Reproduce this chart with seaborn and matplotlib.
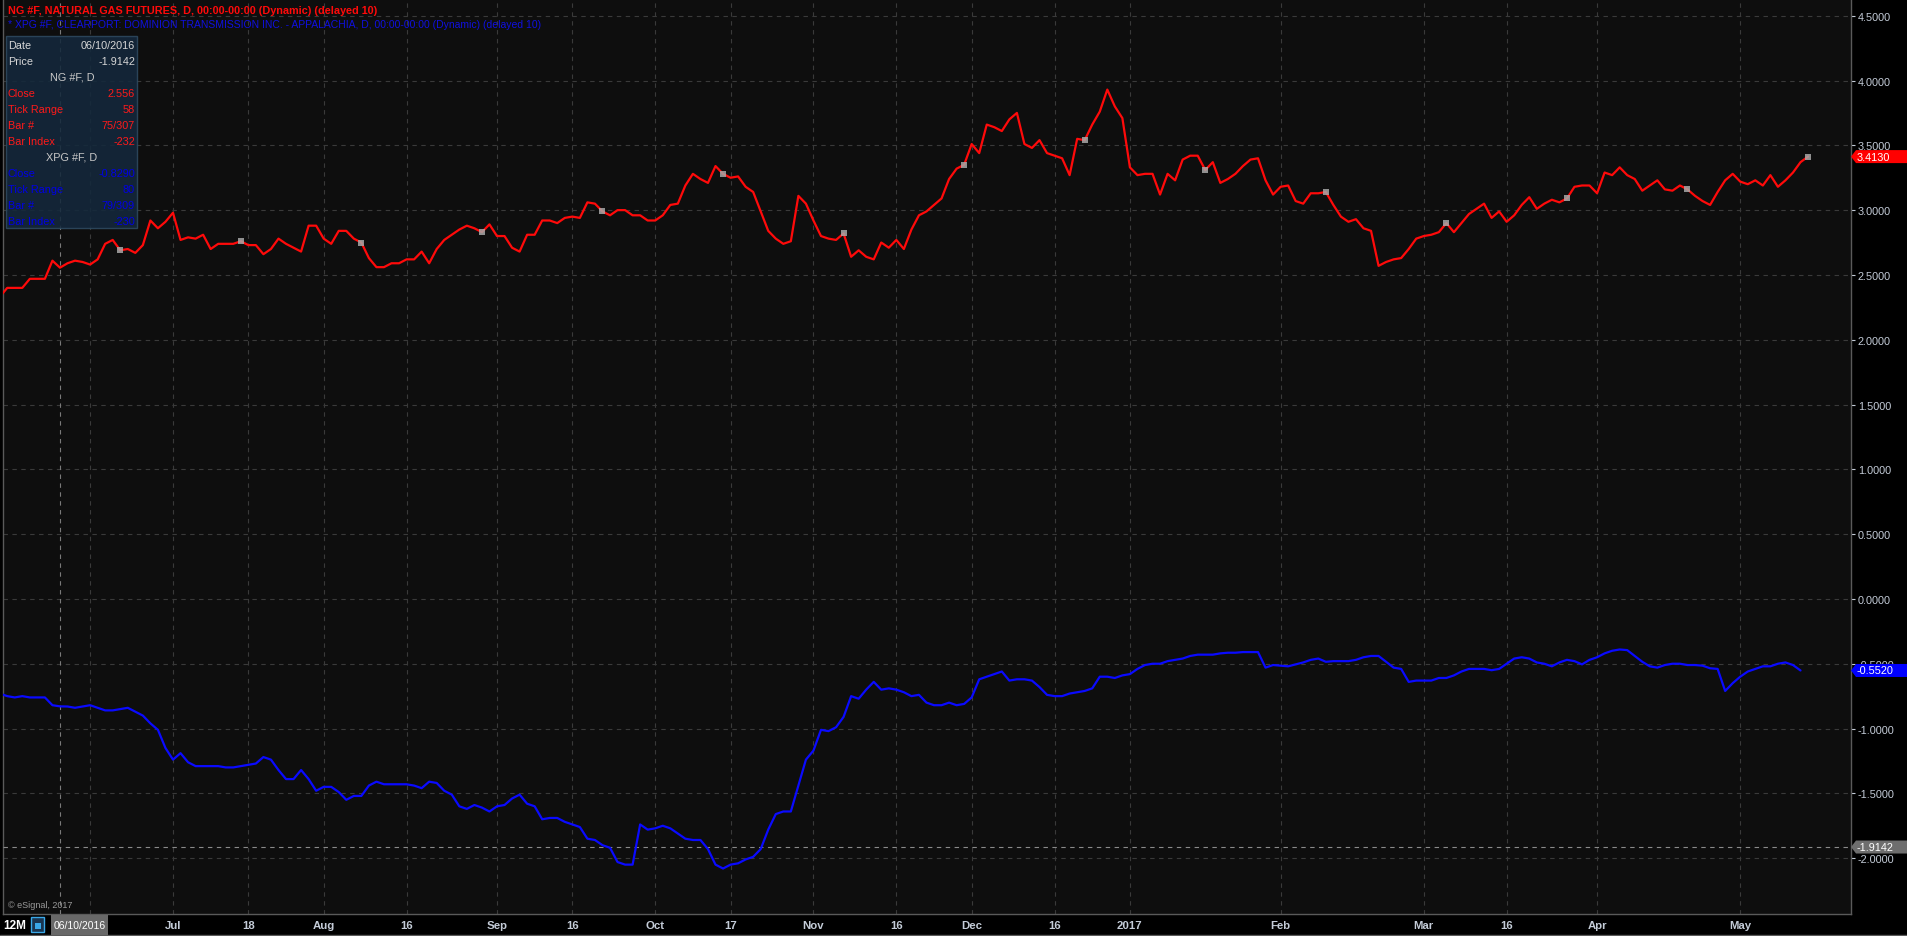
import numpy as np
import pandas as pd
import matplotlib
matplotlib.use('Agg')
import matplotlib.pyplot as plt
import seaborn as sns
from matplotlib.patches import Rectangle, Polygon
from matplotlib.lines import Line2D

# ---- data ----
start_date = '2016-05-31'
holidays = ['2016-07-04', '2016-09-05', '2016-11-24', '2016-12-26',
            '2017-01-02', '2017-01-16', '2017-02-20', '2017-04-14']

# NG #F daily close
ng_close = [
    2.33, 2.40, 2.40, 2.40, 2.47, 2.47, 2.47, 2.61, 2.556, 2.59,
    2.61, 2.60, 2.58, 2.62, 2.74, 2.77, 2.69, 2.70, 2.67, 2.73,
    2.92, 2.86, 2.91, 2.98, 2.77, 2.79, 2.78, 2.81, 2.70, 2.74,
    2.74, 2.74, 2.76, 2.73, 2.73, 2.66, 2.70, 2.78, 2.74, 2.71,
    2.68, 2.88, 2.88, 2.78, 2.74, 2.84, 2.84, 2.78, 2.75, 2.63,
    2.56, 2.56, 2.59, 2.59, 2.62, 2.62, 2.68, 2.59, 2.70, 2.77,
    2.81, 2.85, 2.88, 2.86, 2.83, 2.89, 2.80, 2.80, 2.71, 2.68,
    2.81, 2.81, 2.92, 2.92, 2.90, 2.94, 2.95, 2.94, 3.06, 3.05,
    2.99, 2.96, 3.00, 3.00, 2.96, 2.96, 2.92, 2.92, 2.96, 3.04,
    3.05, 3.19, 3.28, 3.24, 3.21, 3.34, 3.28, 3.25, 3.26, 3.18,
    3.14, 2.99, 2.84, 2.78, 2.74, 2.76, 3.11, 3.05, 2.92, 2.80,
    2.78, 2.77, 2.82, 2.64, 2.69, 2.64, 2.62, 2.75, 2.71, 2.77,
    2.70, 2.85, 2.96, 2.99, 3.04, 3.09, 3.24, 3.32, 3.35, 3.51,
    3.44, 3.66, 3.64, 3.61, 3.70, 3.75, 3.51, 3.48, 3.54, 3.44,
    3.42, 3.40, 3.27, 3.55, 3.54, 3.66, 3.76, 3.93, 3.80, 3.71,
    3.33, 3.27, 3.28, 3.28, 3.12, 3.28, 3.23, 3.39, 3.42, 3.42,
    3.31, 3.37, 3.21, 3.24, 3.28, 3.34, 3.39, 3.40, 3.23, 3.12,
    3.18, 3.19, 3.07, 3.05, 3.13, 3.13, 3.14, 3.04, 2.95, 2.91,
    2.93, 2.86, 2.84, 2.57, 2.60, 2.62, 2.63, 2.70, 2.78, 2.80,
    2.81, 2.83, 2.90, 2.83, 2.90, 2.97, 3.01, 3.05, 2.94, 2.99,
    2.91, 2.96, 3.04, 3.10, 3.01, 3.05, 3.08, 3.06, 3.09, 3.18,
    3.19, 3.19, 3.13, 3.29, 3.27, 3.33, 3.27, 3.24, 3.15, 3.19,
    3.23, 3.16, 3.15, 3.19, 3.16, 3.11, 3.07, 3.04, 3.14, 3.23,
    3.28, 3.22, 3.20, 3.23, 3.19, 3.27, 3.18, 3.23, 3.29, 3.37,
    3.413,
]

# XPG #F daily close (Dominion Transmission basis)
xpg_close = [
    -0.73, -0.75, -0.76, -0.75, -0.76, -0.76, -0.76, -0.82, -0.829, -0.83,
    -0.84, -0.83, -0.82, -0.84, -0.86, -0.86, -0.85, -0.84, -0.87, -0.90,
    -0.96, -1.01, -1.15, -1.24, -1.19, -1.26, -1.29, -1.29, -1.29, -1.29,
    -1.30, -1.30, -1.29, -1.28, -1.27, -1.22, -1.24, -1.32, -1.39, -1.39,
    -1.32, -1.39, -1.48, -1.45, -1.45, -1.49, -1.55, -1.52, -1.52, -1.44,
    -1.41, -1.43, -1.43, -1.43, -1.43, -1.44, -1.46, -1.41, -1.42, -1.48,
    -1.51, -1.60, -1.62, -1.59, -1.61, -1.64, -1.60, -1.59, -1.54, -1.51,
    -1.58, -1.60, -1.70, -1.69, -1.69, -1.72, -1.74, -1.76, -1.85, -1.86,
    -1.90, -1.92, -2.03, -2.05, -2.05, -1.74, -1.78, -1.77, -1.75, -1.77,
    -1.81, -1.85, -1.86, -1.86, -1.93, -2.05, -2.08, -2.05, -2.04, -2.01,
    -1.99, -1.93, -1.78, -1.66, -1.64, -1.64, -1.44, -1.24, -1.17, -1.01,
    -1.02, -0.99, -0.91, -0.75, -0.77, -0.70, -0.64, -0.70, -0.69, -0.70,
    -0.72, -0.75, -0.74, -0.80, -0.82, -0.82, -0.80, -0.82, -0.81, -0.76,
    -0.62, -0.60, -0.58, -0.56, -0.63, -0.62, -0.62, -0.63, -0.68, -0.74,
    -0.75, -0.75, -0.73, -0.72, -0.71, -0.69, -0.60, -0.60, -0.61, -0.59,
    -0.58, -0.54, -0.51, -0.50, -0.50, -0.48, -0.47, -0.46, -0.44, -0.43,
    -0.43, -0.43, -0.42, -0.415, -0.415, -0.41, -0.41, -0.41, -0.53, -0.51,
    -0.515, -0.52, -0.505, -0.49, -0.47, -0.46, -0.485, -0.48, -0.48, -0.48,
    -0.47, -0.45, -0.44, -0.44, -0.485, -0.53, -0.54, -0.64, -0.63, -0.63,
    -0.63, -0.61, -0.61, -0.59, -0.56, -0.54, -0.54, -0.54, -0.55, -0.54,
    -0.50, -0.46, -0.45, -0.46, -0.49, -0.50, -0.52, -0.49, -0.47, -0.48,
    -0.505, -0.47, -0.45, -0.42, -0.40, -0.39, -0.395, -0.44, -0.485, -0.52,
    -0.53, -0.51, -0.50, -0.50, -0.51, -0.51, -0.515, -0.535, -0.54, -0.71,
    -0.65, -0.60, -0.56, -0.54, -0.52, -0.52, -0.50, -0.49, -0.51, -0.552,
]

tick_dates = ['2016-06-16', '2016-07-01', '2016-07-18', '2016-08-01', '2016-08-16',
              '2016-09-01', '2016-09-16', '2016-10-03', '2016-10-17', '2016-11-01',
              '2016-11-16', '2016-12-01', '2016-12-16', '2017-01-03', '2017-02-01',
              '2017-03-01', '2017-03-16', '2017-04-03', '2017-05-01']
tick_labels = ['', 'Jul', '18', 'Aug', '16', 'Sep', '16', 'Oct', '17', 'Nov',
               '16', 'Dec', '16', '2017', 'Feb', 'Mar', '16', 'Apr', 'May']
y_ticks = [-2.0, -1.5, -1.0, -0.5, 0.0, 0.5, 1.0, 1.5, 2.0, 2.5, 3.0, 3.5, 4.0, 4.5]

cursor_date = '2016-06-10'
cursor_price = -1.9142

ng_title = 'NG #F, NATURAL GAS FUTURES, D, 00:00-00:00 (Dynamic) (delayed 10)'
xpg_title = '* XPG #F, CLEARPORT: DOMINION TRANSMISSION INC. - APPALACHIA, D, 00:00-00:00 (Dynamic) (delayed 10)'
ng_info = [('Close', '2.556'), ('Tick Range', '58'), ('Bar #', '75/307'), ('Bar Index', '-232')]
xpg_info = [('Close', '-0.8290'), ('Tick Range', '80'), ('Bar #', '79/309'), ('Bar Index', '-230')]

# ---- build frame ----
dates = pd.bdate_range(start_date, periods=len(ng_close), freq='C', holidays=holidays)
assert dates[-1] == pd.Timestamp('2017-05-12')
ng_df = pd.DataFrame({'bar': np.arange(len(ng_close)), 'close': ng_close})
xpg_df = pd.DataFrame({'bar': np.arange(len(xpg_close)), 'close': xpg_close})
tick_pos = dates.get_indexer(pd.to_datetime(tick_dates))
cursor_bar = dates.get_indexer(pd.to_datetime([cursor_date]))[0]

# ---- style ----
sns.set_theme(style='dark')
plt.rcParams['font.family'] = ['Liberation Sans', 'DejaVu Sans']

W, H = 1907, 937
RED = '#ff0a0a'
BLUE = '#0a0aff'
GRID = '#3a3a3a'
LABEL = '#c4ccd8'

fig = plt.figure(figsize=(W / 100, H / 100), dpi=100, facecolor='#000000')
ax = fig.add_axes([3 / W, 22 / H, 1848 / W, 915 / H])
ax.set_facecolor('#0e0e0e')

sns.lineplot(data=ng_df, x='bar', y='close', color=RED, lw=1.6, ax=ax, zorder=4)
sns.lineplot(data=xpg_df, x='bar', y='close', color=BLUE, lw=1.6, ax=ax, zorder=4)

# periodic grey markers on the NG line
mk = ng_df.iloc[16::16]
ax.scatter(mk['bar'], mk['close'], marker='s', s=22, color='#a8a8a8', alpha=0.85,
           linewidths=0, zorder=5)

ax.set_xlim(0.44, 245.7)
ax.set_ylim(-2.431, 4.629)
ax.set_xlabel('')
ax.set_ylabel('')

ax.yaxis.tick_right()
ax.set_yticks(y_ticks)
ax.set_yticklabels([f'{v:.4f}' for v in y_ticks])
ax.tick_params(axis='y', colors=LABEL, labelsize=7.8, length=3, width=0.8, pad=2,
               direction='out', labelcolor=LABEL)
ax.set_xticks(tick_pos)
ax.set_xticklabels(tick_labels, fontweight='bold')
ax.tick_params(axis='x', colors=LABEL, labelsize=8.2, length=0, pad=4, labelcolor=LABEL)

ax.grid(True, color=GRID, linestyle=(0, (4, 4)), lw=0.8)
for side in ['left', 'right', 'bottom']:
    ax.spines[side].set_color('#5a5a5a')
    ax.spines[side].set_linewidth(1)
ax.spines['top'].set_visible(False)

# crosshair
ax.axvline(cursor_bar, color='#7a7a7a', lw=0.8, linestyle=(0, (4, 4)), zorder=3)
ax.axhline(cursor_price, color='#8a8a8a', lw=0.8, linestyle=(0, (4, 4)), zorder=3)

# price tags on the right axis
yt = ax.get_yaxis_transform()
tag_w = 56 / 1848
tip = 5 / 1848
half = 6.5 / 129.6
for val, col, txt in [(ng_close[-1], '#ff0000', f'{ng_close[-1]:.4f}'),
                      (xpg_close[-1], '#0000ff', f'{xpg_close[-1]:.4f}'),
                      (cursor_price, '#6e6e6e', f'{cursor_price:.4f}')]:
    poly = Polygon([(1.0, val), (1.0 + tip, val + half), (1.0 + tag_w, val + half),
                    (1.0 + tag_w, val - half), (1.0 + tip, val - half)],
                   closed=True, transform=yt, facecolor=col, edgecolor='none',
                   clip_on=False, zorder=10)
    ax.add_patch(poly)
    ax.text(1.0 + 6 / 1848, val, txt, transform=yt, color='white', fontsize=7.8,
            va='center', ha='left', clip_on=False, zorder=11)

# ---- figure-level annotations (pixel helpers) ----
def fx(x):
    return x / W


def fy(y):
    return 1 - y / H


fig.text(fx(8), fy(11), ng_title, color=RED, fontsize=7.8, fontweight='bold',
         va='center', ha='left')
fig.text(fx(8), fy(25), xpg_title, color='#1010e0', fontsize=7.5,
         va='center', ha='left')

# data window box
fig.add_artist(Rectangle((fx(6), fy(229)), fx(131), 192 / H, transform=fig.transFigure,
                         facecolor='#14283c', edgecolor='#2e4a60', lw=1, alpha=0.88,
                         zorder=6))
rows = [('Date', cursor_date[5:7] + '/' + cursor_date[8:] + '/' + cursor_date[:4], '#d6d6d6'),
        ('Price', f'{cursor_price:.4f}', '#d6d6d6')]
y0 = 46
for i, (k, v, c) in enumerate(rows):
    fig.text(fx(8), fy(y0 + 16 * i), k, color=c, fontsize=7.8, va='center', zorder=7)
    fig.text(fx(135), fy(y0 + 16 * i), v, color=c, fontsize=7.8, va='center', ha='right', zorder=7)
fig.text(fx(72), fy(78), 'NG #F, D', color='#c8c8c8', fontsize=7.8, va='center', ha='center', zorder=7)
for i, (k, v) in enumerate(ng_info):
    yy = 94 + 16 * i
    fig.text(fx(8), fy(yy), k, color='#ff1a1a', fontsize=7.8, va='center', zorder=7)
    fig.text(fx(135), fy(yy), v, color='#ff1a1a', fontsize=7.8, va='center', ha='right', zorder=7)
fig.text(fx(72), fy(158), 'XPG #F, D', color='#c8c8c8', fontsize=7.8, va='center', ha='center', zorder=7)
for i, (k, v) in enumerate(xpg_info):
    yy = 174 + 16 * i
    fig.text(fx(8), fy(yy), k, color='#0000e6', fontsize=7.8, va='center', zorder=7)
    fig.text(fx(135), fy(yy), v, color='#0000e6', fontsize=7.8, va='center', ha='right', zorder=7)

# copyright
fig.text(fx(8), fy(906), '\u00a9 eSignal, 2017', color='#9a9a9a', fontsize=6.5, va='center')

# bottom-left controls
fig.text(fx(3), fy(926), '12M', color='white', fontsize=8.5, fontweight='bold',
         va='center')
fig.add_artist(Rectangle((fx(31), fy(933)), fx(13), 15 / H, transform=fig.transFigure,
                         facecolor='#1a3550', edgecolor='#3aa8e8', lw=1, zorder=6))
fig.add_artist(Rectangle((fx(34.5), fy(930)), fx(6), 6 / H, transform=fig.transFigure,
                         facecolor='#3aa8e8', edgecolor='none', zorder=7))
fig.add_artist(Rectangle((fx(51), fy(936)), fx(57), 20 / H, transform=fig.transFigure,
                         facecolor='#686868', edgecolor='none', zorder=6))
fig.text(fx(79.5), fy(926), '06/10/2016', color='white', fontsize=7.5,
         va='center', ha='center', zorder=7)
fig.add_artist(Line2D([0, 1], [fy(935.5), fy(935.5)], transform=fig.transFigure,
                      color='#5a5a5a', lw=1))

fig.savefig('out.png', dpi=100, facecolor=fig.get_facecolor())
